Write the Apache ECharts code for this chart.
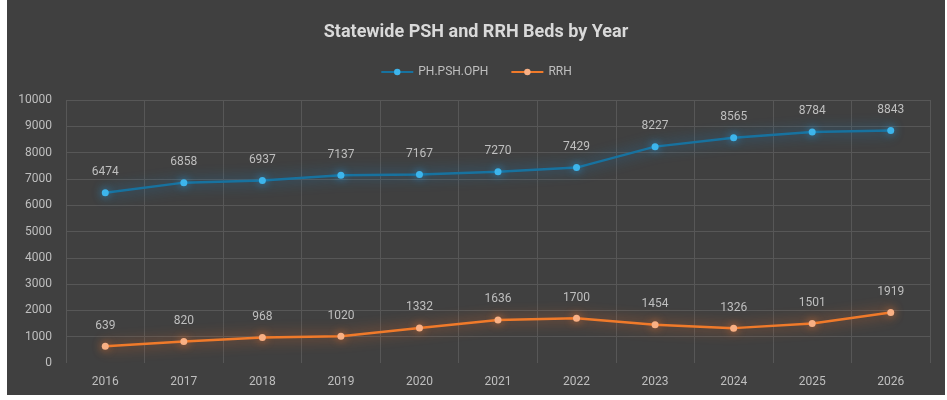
<!DOCTYPE html>
<html>
<head>
<meta charset="utf-8">
<script src="https://cdn.jsdelivr.net/npm/echarts@6/dist/echarts.min.js"></script>
<style>
  html, body { margin: 0; padding: 0; background: #ffffff; }
  #main { position: absolute; left: 7px; top: 0; width: 938px; height: 395px; background: #404040; }
</style>
</head>
<body>
<div id="main"></div>
<script>
// Data
var years = ['2016', '2017', '2018', '2019', '2020', '2021', '2022', '2023', '2024', '2025', '2026'];
var phValues = [6474, 6858, 6937, 7137, 7167, 7270, 7429, 8227, 8565, 8784, 8843];
var rrhValues = [639, 820, 968, 1020, 1332, 1636, 1700, 1454, 1326, 1501, 1919];

var myChart = echarts.init(document.getElementById('main'));

var labelStyle = {
  show: true,
  position: 'top',
  distance: 11,
  color: '#bfbfbf',
  fontSize: 12,
  fontFamily: 'Roboto'
};

var option = {
  animation: false,
  backgroundColor: '#404040',
  title: {
    text: 'Statewide PSH and RRH Beds by Year',
    left: 'center',
    top: 18,
    textStyle: { color: '#d9d9d9', fontSize: 18, fontWeight: 'bold', fontFamily: 'Roboto' }
  },
  legend: {
    top: 61,
    left: 'center',
    itemWidth: 32,
    itemHeight: 8,
    itemGap: 22,
    textStyle: { color: '#bfbfbf', fontSize: 12, fontFamily: 'Roboto' },
    data: ['PH.PSH.OPH', 'RRH']
  },
  grid: { left: 59, right: 15, top: 100, bottom: 32, containLabel: false },
  xAxis: {
    type: 'category',
    data: years,
    boundaryGap: true,
    axisLine: { show: false },
    axisTick: { show: false },
    axisLabel: { color: '#bfbfbf', fontSize: 12, fontFamily: 'Roboto', margin: 13 },
    splitLine: { show: true, lineStyle: { color: '#575757', width: 1 } }
  },
  yAxis: {
    type: 'value',
    min: 0,
    max: 10000,
    interval: 1000,
    axisLine: { show: false },
    axisTick: { show: false },
    axisLabel: {
      color: '#bfbfbf', fontSize: 12, fontFamily: 'Roboto', margin: 14,
      formatter: function (v) { return String(v); }
    },
    splitLine: { showMinLine: false, lineStyle: { color: '#575757', width: 1 } }
  },
  series: [
    {
      name: 'PH.PSH.OPH',
      type: 'line',
      data: phValues,
      symbol: 'circle',
      symbolSize: 7,
      itemStyle: { color: '#3db5ec', shadowColor: 'rgba(40,160,230,0.8)', shadowBlur: 8 },
      lineStyle: { color: '#17729f', width: 2.5, shadowColor: 'rgba(25,130,200,0.9)', shadowBlur: 14 },
      label: labelStyle
    },
    {
      name: 'RRH',
      type: 'line',
      data: rrhValues,
      symbol: 'circle',
      symbolSize: 7,
      itemStyle: { color: '#f9b084', shadowColor: 'rgba(240,120,50,0.8)', shadowBlur: 8 },
      lineStyle: { color: '#f07a2a', width: 2.5, shadowColor: 'rgba(240,110,40,0.9)', shadowBlur: 14 },
      label: labelStyle
    }
  ]
};

myChart.setOption(option);
</script>
</body>
</html>
